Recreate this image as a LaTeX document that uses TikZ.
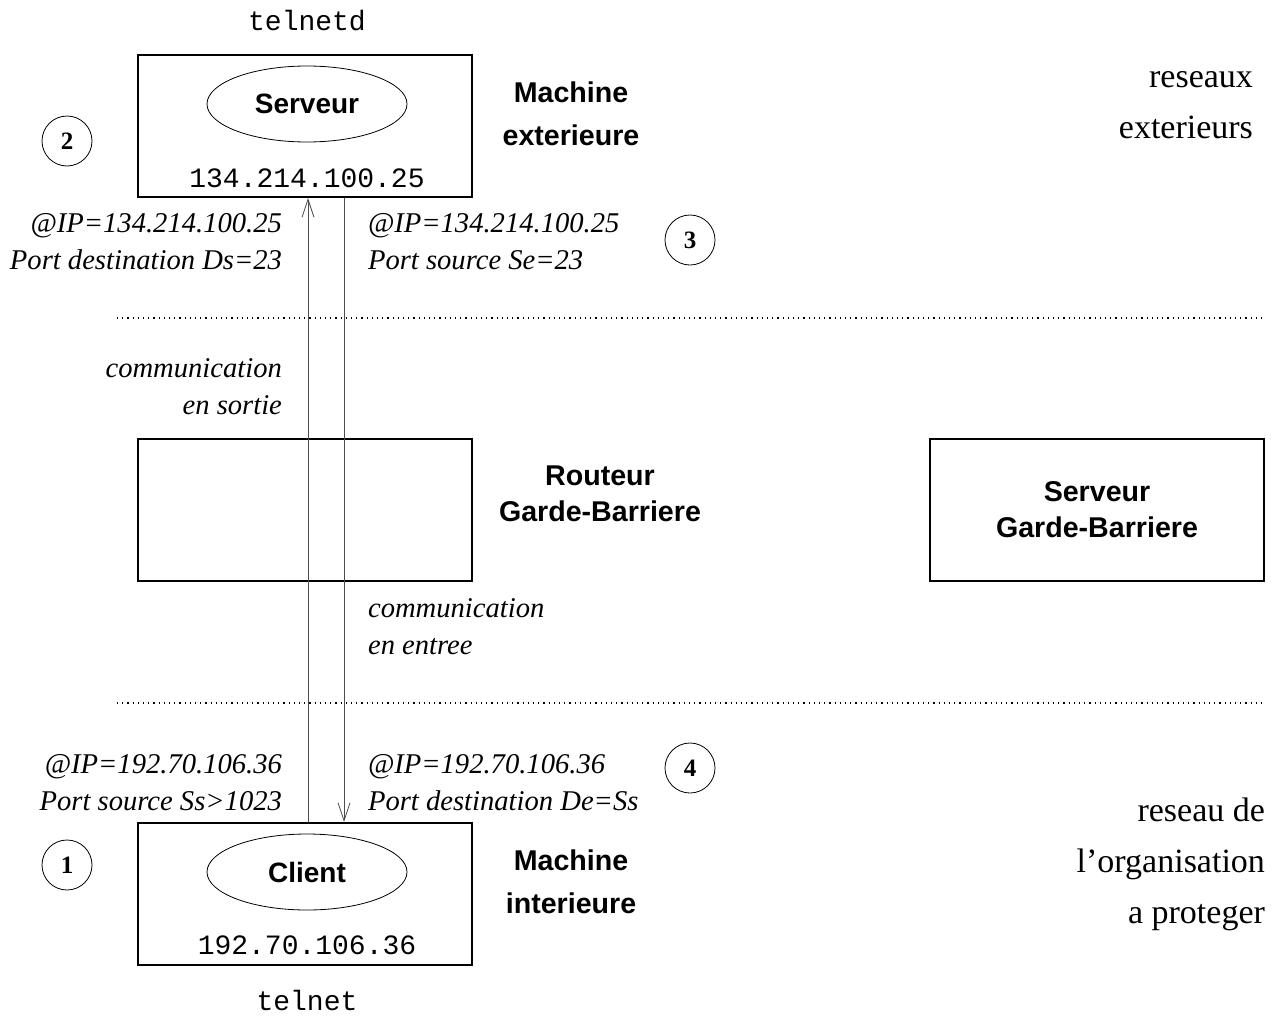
\documentclass[tikz,border=0pt]{standalone}
\usepackage{fontspec}
\setmainfont{Liberation Serif}
\setsansfont{Liberation Sans}
\setmonofont{Liberation Mono}
\usetikzlibrary{shapes,arrows.meta,positioning,calc}
\tikzset{
machine/.style = {draw, line width=1pt, rectangle, minimum width=167pt, minimum height=71pt},
prog/.style = {draw, ellipse, minimum width=100pt, minimum height=38pt, font=\sffamily\bfseries\fontsize{14}{16}\selectfont},
addr/.style = {font=\ttfamily\fontsize{14}{16}\selectfont},
title/.style = {font=\sffamily\bfseries\fontsize{14.3}{18}\selectfont, align=center},
info/.style = {font=\itshape\fontsize{14.3}{18.5}\selectfont},
zone/.style = {font=\fontsize{17}{25.5}\selectfont},
step_nb/.style = {draw, circle, minimum size=25pt, inner sep=0pt, font=\bfseries\fontsize{12.5}{14}\selectfont},
flow/.style = {draw=black!70, -{Straight Barb[length=9pt,width=6pt]}},
limit/.style = {dotted, line width=0.6pt}
}
\begin{document}
\begin{tikzpicture}[x=0.5pt, y=-0.5pt]
        \useasboundingbox (0,0) rectangle (1278,1017);
        % machine exterieure
        \node [machine] (server) at (305,126) {};
        \node [prog] (serveur) at (307,104) {Serveur};
        \node [addr] (ip_ext) at (307,178) {134.214.100.25};
        \node [addr] (telnetd) at (307,21) {telnetd};
        \node [title, font=\sffamily\bfseries\fontsize{14.3}{21.5}\selectfont] (m_ext) at (571,114) {Machine\\exterieure};
        \node [zone, anchor=east, align=right] (r_ext) at (1260,105) {reseaux\\exterieurs};
        % routeur et serveur garde-barriere
        \node [machine] (routeur) at (305,509.5) {};
        \node [title] (t_rout) at (600,494) {Routeur\\Garde-Barriere};
        \node [machine, title] (sgb) at (1097,509.5) {Serveur\\Garde-Barriere};
        % machine interieure
        \node [machine] (client_m) at (305,894) {};
        \node [prog] (client) at (307,872) {Client};
        \node [addr] (ip_int) at (307,945) {192.70.106.36};
        \node [addr] (telnet) at (307,1000) {telnet};
        \node [title, font=\sffamily\bfseries\fontsize{14.3}{21.5}\selectfont] (m_int) at (571,882) {Machine\\interieure};
        \node [zone, anchor=east, align=right] (r_int) at (1272,864) {reseau de\\l'organisation\\a proteger};
        % etapes
        \node [step_nb] (s1) at (67,865) {1};
        \node [step_nb] (s2) at (67,141) {2};
        \node [step_nb] (s3) at (690,240) {3};
        \node [step_nb] (s4) at (690,768) {4};
        % limites
        \coordinate (l1a) at (117,318);
        \coordinate (l1b) at (1263,318);
        \coordinate (l2a) at (117,703);
        \coordinate (l2b) at (1263,703);
        \draw [limit] (l1a) -- (l1b);
        \draw [limit] (l2a) -- (l2b);
        % communications
        \coordinate (up_a) at ([xshift=1.5pt]client_m.north);
        \coordinate (dn_a) at ([xshift=19.5pt]server.south);
        \draw [flow] (up_a) -- (up_a |- server.south);
        \draw [flow] (dn_a) -- (dn_a |- client_m.north);
        \node [info, anchor=east, align=right] (lbl1) at (289,242) {@IP=134.214.100.25\\Port destination Ds=23};
        \node [info, anchor=west, align=left] (lbl2) at (361,242) {@IP=134.214.100.25\\Port source Se=23};
        \node [info, anchor=east, align=right] (lbl3) at (289,387) {communication\\en sortie};
        \node [info, anchor=west, align=left] (lbl4) at (361,627) {communication\\en entree};
        \node [info, anchor=east, align=right] (lbl5) at (289,783) {@IP=192.70.106.36\\Port source Ss>1023};
        \node [info, anchor=west, align=left] (lbl6) at (361,783) {@IP=192.70.106.36\\Port destination De=Ss};
\end{tikzpicture}
\end{document}
